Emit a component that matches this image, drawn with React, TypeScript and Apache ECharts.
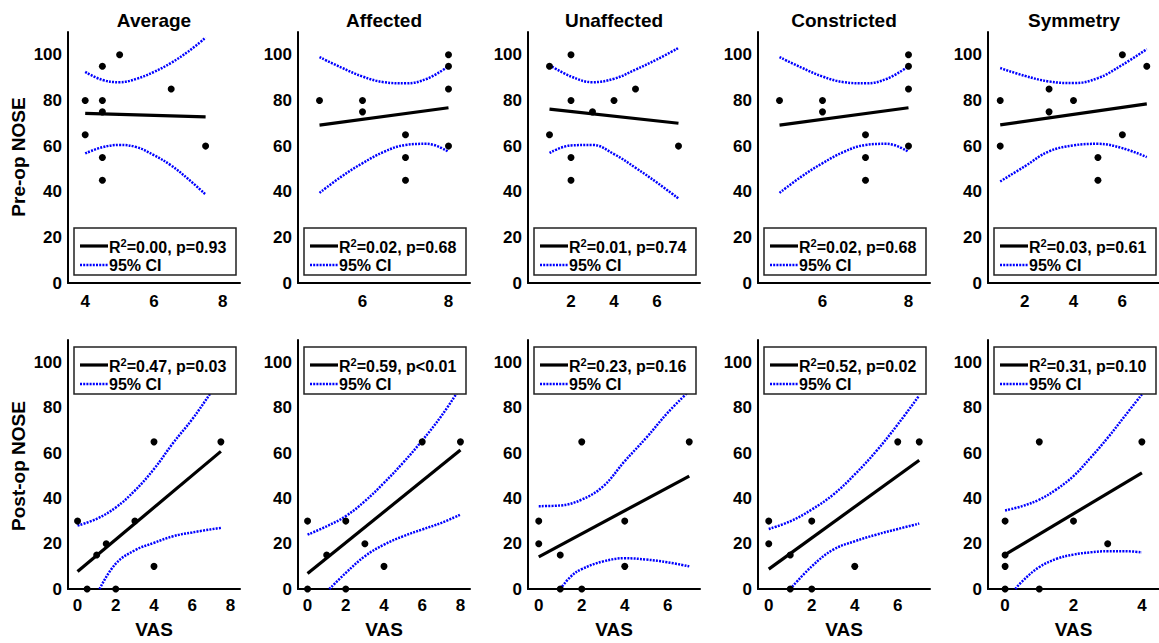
import React, { useEffect, useRef } from 'react';
import * as echarts from 'echarts';

const FONT = 'Helvetica, Arial, "Liberation Sans", sans-serif';

const panelTitles = ['Average', 'Affected', 'Unaffected', 'Constricted', 'Symmetry'];
const rowLabels = ['Pre-op NOSE', 'Post-op NOSE'];
const xName = 'VAS';
const ciName = '95% CI';
const yTicks = [0, 20, 40, 60, 80, 100];

// ---------- Pre-op row ----------
const preXRanges = [[3.5, 8.5], [4.5, 8.5], [0, 8], [4.5, 8.5], [0.5, 7.5]];
const preXTicks = [[4, 6, 8], [6, 8], [2, 4, 6], [6, 8], [2, 4, 6]];
const preStats = [
  ['0.00', '0.93'],
  ['0.02', '0.68'],
  ['0.01', '0.74'],
  ['0.02', '0.68'],
  ['0.03', '0.61'],
];

const avgPreX = [4, 4, 4.5, 4.5, 4.5, 4.5, 4.5, 5, 6.5, 7.5];
const avgPreY = [80, 65, 95, 80, 75, 55, 45, 100, 85, 60];
const avgPreFit = [[4, 74.3], [7.5, 72.8]];
const avgPreCiUp = [[4, 92.5], [4.5, 89], [5, 88], [5.5, 89.5], [6, 92.5], [6.5, 96.5], [7, 101.5], [7.5, 107.5]];
const avgPreCiLo = [[4, 56.8], [4.5, 59.5], [5, 60.5], [5.5, 59.5], [6, 56], [6.5, 51.5], [7, 45.5], [7.5, 38.8]];

const affPreX = [5, 6, 6, 7, 7, 7, 8, 8, 8, 8];
const affPreY = [80, 80, 75, 65, 55, 45, 100, 95, 85, 60];
const affPreFit = [[5, 69.2], [8, 76.8]];
const affPreCiUp = [[5, 99], [5.5, 94.5], [6, 90.5], [6.5, 88], [7, 87.5], [7.5, 89.5], [8, 95]];
const affPreCiLo = [[5, 39.5], [5.5, 46.5], [6, 52.5], [6.5, 57.5], [7, 60.5], [7.5, 61], [8, 57.5]];

const unaPreX = [1, 1, 2, 2, 2, 2, 3, 4, 5, 7];
const unaPreY = [95, 65, 100, 80, 55, 45, 75, 80, 85, 60];
const unaPreFit = [[1, 76.2], [7, 70]];
const unaPreCiUp = [[1, 95.5], [2, 90.5], [3, 88], [4, 89.5], [5, 93.5], [6, 98], [7, 103]];
const unaPreCiLo = [[1, 57], [2, 60.3], [3, 60.5], [4, 56.5], [5, 50.5], [6, 44], [7, 37]];

const conPreX = [5, 6, 6, 7, 7, 7, 8, 8, 8, 8];
const conPreY = [80, 80, 75, 65, 55, 45, 100, 95, 85, 60];
const conPreFit = [[5, 69.2], [8, 76.8]];
const conPreCiUp = [[5, 99], [5.5, 94.5], [6, 90.5], [6.5, 88], [7, 87.5], [7.5, 89.5], [8, 95]];
const conPreCiLo = [[5, 39.5], [5.5, 46.5], [6, 52.5], [6.5, 57.5], [7, 60.5], [7.5, 61], [8, 57.5]];

const symPreX = [1, 1, 3, 3, 4, 5, 5, 6, 6, 7];
const symPreY = [80, 60, 85, 75, 80, 55, 45, 100, 65, 95];
const symPreFit = [[1, 69.3], [7, 78.5]];
const symPreCiUp = [[1, 94.2], [2, 90.8], [3, 88.3], [4, 87.6], [5, 89.8], [6, 95.6], [7, 102.5]];
const symPreCiLo = [[1, 44.5], [2, 51.1], [3, 57.7], [4, 60.3], [5, 61], [6, 59.1], [7, 55.2]];

// ---------- Post-op row ----------
const postXRanges = [[-0.5, 8.5], [-0.5, 8.5], [-0.5, 7.5], [-0.5, 7.5], [-0.5, 4.5]];
const postXTicks = [[0, 2, 4, 6, 8], [0, 2, 4, 6, 8], [0, 2, 4, 6], [0, 2, 4, 6], [0, 2, 4]];
const postStats = [
  ['0.47', '=0.03'],
  ['0.59', '<0.01'],
  ['0.23', '=0.16'],
  ['0.52', '=0.02'],
  ['0.31', '=0.10'],
];

const avgPostX = [0, 0.5, 1, 1.5, 2, 3, 4, 4, 7.5];
const avgPostY = [30, 0, 15, 20, 0, 30, 65, 10, 65];
const avgPostFit = [[0, 7.7], [7.5, 60.8]];
const avgPostCiUp = [[0, 28], [1, 31], [2, 36], [3, 43.5], [4, 53], [5, 64.5], [6, 75], [7, 87], [7.5, 93]];
const avgPostCiLo = [[1.15, 0], [2, 11.2], [3, 17.1], [4, 20.4], [5, 23.3], [6, 25], [7.5, 27]];

const affPostX = [0, 0, 1, 2, 2, 3, 4, 6, 8];
const affPostY = [30, 0, 15, 30, 0, 20, 10, 65, 65];
const affPostFit = [[0, 6.8], [8, 61.4]];
const affPostCiUp = [[0, 24], [1, 27.7], [2, 32.2], [3, 38.8], [4, 46.9], [5, 55.8], [6, 65.6], [7, 76.4], [8, 89]];
const affPostCiLo = [[1.14, 0], [2, 7.1], [3, 14.5], [4, 19.6], [5, 23.3], [6, 26.3], [7, 29.2], [8, 32.9]];

const unaPostX = [0, 0, 1, 1, 2, 2, 4, 4, 7];
const unaPostY = [30, 20, 15, 0, 65, 0, 30, 10, 65];
const unaPostFit = [[0, 14.2], [7, 49.9]];
const unaPostCiUp = [[0, 36.6], [1, 36.9], [2, 39.5], [3, 45.4], [4, 56.5], [5, 66.8], [6, 77.9], [7, 87.5]];
const unaPostCiLo = [[1, 0], [1.5, 5.6], [2, 8.8], [3, 12.2], [4, 13.6], [5, 13], [6, 11.8], [7, 10]];

const conPostX = [0, 0, 1, 1, 2, 2, 4, 6, 7];
const conPostY = [30, 20, 15, 0, 30, 0, 10, 65, 65];
const conPostFit = [[0, 8.8], [7, 56.9]];
const conPostCiUp = [[0, 26.5], [1, 29.9], [2, 35.1], [3, 41.7], [4, 50.6], [5, 60.9], [6, 72.7], [7, 85.5]];
const conPostCiLo = [[1, 0], [2, 10], [3, 17.4], [4, 21.1], [5, 24], [6, 26.5], [7, 28.9]];

const symPostX = [0, 0, 0, 0, 1, 1, 2, 3, 4];
const symPostY = [30, 15, 10, 0, 65, 0, 30, 20, 65];
const symPostFit = [[0, 15.2], [4, 51.3]];
const symPostCiUp = [[0, 34.7], [0.5, 36.6], [1, 39.5], [1.5, 44], [2, 49.9], [2.5, 58], [3, 66.8], [3.5, 76.4], [4, 86]];
const symPostCiLo = [[0.3, 0], [0.5, 3.4], [1, 9.7], [1.5, 13.3], [2, 15.2], [2.5, 16.2], [3, 16.7], [3.5, 16.7], [4, 16.2]];

const prePanels = [
  { x: avgPreX, y: avgPreY, fit: avgPreFit, up: avgPreCiUp, lo: avgPreCiLo },
  { x: affPreX, y: affPreY, fit: affPreFit, up: affPreCiUp, lo: affPreCiLo },
  { x: unaPreX, y: unaPreY, fit: unaPreFit, up: unaPreCiUp, lo: unaPreCiLo },
  { x: conPreX, y: conPreY, fit: conPreFit, up: conPreCiUp, lo: conPreCiLo },
  { x: symPreX, y: symPreY, fit: symPreFit, up: symPreCiUp, lo: symPreCiLo },
];
const postPanels = [
  { x: avgPostX, y: avgPostY, fit: avgPostFit, up: avgPostCiUp, lo: avgPostCiLo },
  { x: affPostX, y: affPostY, fit: affPostFit, up: affPostCiUp, lo: affPostCiLo },
  { x: unaPostX, y: unaPostY, fit: unaPostFit, up: unaPostCiUp, lo: unaPostCiLo },
  { x: conPostX, y: conPostY, fit: conPostFit, up: conPostCiUp, lo: conPostCiLo },
  { x: symPostX, y: symPostY, fit: symPostFit, up: symPostCiUp, lo: symPostCiLo },
];

const BLUE = '#0000ff';
const DOT = [2, 1.2];

function buildOption() {
  const grids: any[] = [];
  const xAxes: any[] = [];
  const yAxes: any[] = [];
  const series: any[] = [];
  const graphics: any[] = [];

  const rows = [
    { panels: prePanels, ranges: preXRanges, ticks: preXTicks, top: 32, height: 251, legTop: 228, stats: preStats.map(s => [s[0], '=' + s[1]]), labelMargin: 10 },
    { panels: postPanels, ranges: postXRanges, ticks: postXTicks, top: 340, height: 249, legTop: 347, stats: postStats, labelMargin: 8 },
  ];

  rows.forEach((row, r) => {
    row.panels.forEach((p, c) => {
      const idx = grids.length;
      const left = 68 + 230 * c;
      grids.push({ left, top: row.top, width: 172, height: row.height });
      xAxes.push({
        gridIndex: idx,
        type: 'value',
        min: row.ranges[c][0],
        max: row.ranges[c][1],
        axisLine: { onZero: false, lineStyle: { color: '#000', width: 2 } },
        axisTick: { show: false },
        splitLine: { show: false },
        axisLabel: {
          customValues: row.ticks[c],
          color: '#000',
          fontSize: 17,
          fontWeight: 'bold',
          fontFamily: FONT,
          margin: row.labelMargin,
        },
        ...(r === 1
          ? {
              name: xName,
              nameLocation: 'middle',
              nameGap: 31,
              nameTextStyle: { color: '#000', fontSize: 19, fontWeight: 'bold', fontFamily: FONT },
            }
          : {}),
      });
      yAxes.push({
        gridIndex: idx,
        type: 'value',
        min: 0,
        max: 110,
        interval: 20,
        axisLine: { show: true, onZero: false, lineStyle: { color: '#000', width: 2 } },
        axisTick: { show: false },
        splitLine: { show: false },
        axisLabel: {
          customValues: yTicks,
          color: '#000',
          fontSize: 17,
          fontWeight: 'bold',
          fontFamily: FONT,
          margin: 6,
        },
      });
      series.push({
        type: 'line',
        name: ciName,
        xAxisIndex: idx,
        yAxisIndex: idx,
        data: p.up,
        smooth: 0.4,
        symbol: 'none',
        lineStyle: { color: BLUE, width: 2.5, type: DOT },
        z: 2,
      });
      series.push({
        type: 'line',
        name: ciName,
        xAxisIndex: idx,
        yAxisIndex: idx,
        data: p.lo,
        smooth: 0.4,
        symbol: 'none',
        lineStyle: { color: BLUE, width: 2.5, type: DOT },
        z: 2,
      });
      series.push({
        type: 'line',
        name: 'fit',
        xAxisIndex: idx,
        yAxisIndex: idx,
        data: p.fit,
        symbol: 'none',
        lineStyle: { color: '#000', width: 3.2 },
        z: 3,
      });
      series.push({
        type: 'scatter',
        name: 'data',
        xAxisIndex: idx,
        yAxisIndex: idx,
        data: p.x.map((xv, i) => [xv, p.y[i]]),
        symbolSize: 7,
        itemStyle: { color: '#000', opacity: 1 },
        z: 4,
      });

      // legend box
      const lt = row.legTop;
      graphics.push({
        type: 'rect',
        z: 100,
        shape: { x: left + 6, y: lt, width: 162, height: 47 },
        style: { fill: '#fff', stroke: '#222', lineWidth: 1.5 },
      });
      graphics.push({
        type: 'line',
        z: 101,
        shape: { x1: left + 12, y1: lt + 18, x2: left + 40, y2: lt + 18 },
        style: { stroke: '#000', lineWidth: 3.2 },
      });
      graphics.push({
        type: 'line',
        z: 101,
        shape: { x1: left + 12, y1: lt + 37, x2: left + 40, y2: lt + 37 },
        style: { stroke: BLUE, lineWidth: 2.5, lineDash: DOT },
      });
      graphics.push({
        type: 'text',
        z: 101,
        x: left + 41,
        y: lt + 18,
        style: {
          text: `{n|R}{s|2}{n|=${row.stats[c][0]}, p${row.stats[c][1]}}`,
          verticalAlign: 'middle',
          fill: '#000',
          rich: {
            n: { fontSize: 16, fontWeight: 'bold', fontFamily: FONT, fill: '#000', verticalAlign: 'bottom', lineHeight: 17 },
            s: { fontSize: 11, fontWeight: 'bold', fontFamily: FONT, fill: '#000', verticalAlign: 'bottom', padding: [0, 0, 7, 0] },
          },
        },
      });
      graphics.push({
        type: 'text',
        z: 101,
        x: left + 41,
        y: lt + 37,
        style: {
          text: ciName,
          verticalAlign: 'middle',
          fontSize: 16,
          fontWeight: 'bold',
          fontFamily: FONT,
          fill: '#000',
        },
      });

      if (r === 0) {
        graphics.push({
          type: 'text',
          x: left + 86,
          y: 20,
          style: {
            text: panelTitles[c],
            align: 'center',
            verticalAlign: 'middle',
            fontSize: 19,
            fontWeight: 'bold',
            fontFamily: FONT,
            fill: '#000',
          },
        });
      }
    });
  });

  graphics.push({
    type: 'text',
    x: 18,
    y: 157,
    rotation: Math.PI / 2,
    style: { text: rowLabels[0], align: 'center', verticalAlign: 'middle', fontSize: 19, fontWeight: 'bold', fontFamily: FONT, fill: '#000' },
  });
  graphics.push({
    type: 'text',
    x: 18,
    y: 466,
    rotation: Math.PI / 2,
    style: { text: rowLabels[1], align: 'center', verticalAlign: 'middle', fontSize: 19, fontWeight: 'bold', fontFamily: FONT, fill: '#000' },
  });

  return {
    animation: false,
    backgroundColor: '#fff',
    grid: grids,
    xAxis: xAxes,
    yAxis: yAxes,
    series,
    graphic: graphics,
  };
}

export default function App() {
  const ref = useRef<HTMLDivElement>(null);
  useEffect(() => {
    if (!ref.current) return;
    const chart = echarts.init(ref.current, undefined, { renderer: 'svg' });
    chart.setOption(buildOption() as any);
    return () => chart.dispose();
  }, []);
  return (
    <div
      ref={ref}
      style={{ position: 'absolute', left: 0, top: 0, width: 1159, height: 643, background: '#fff' }}
    />
  );
}
